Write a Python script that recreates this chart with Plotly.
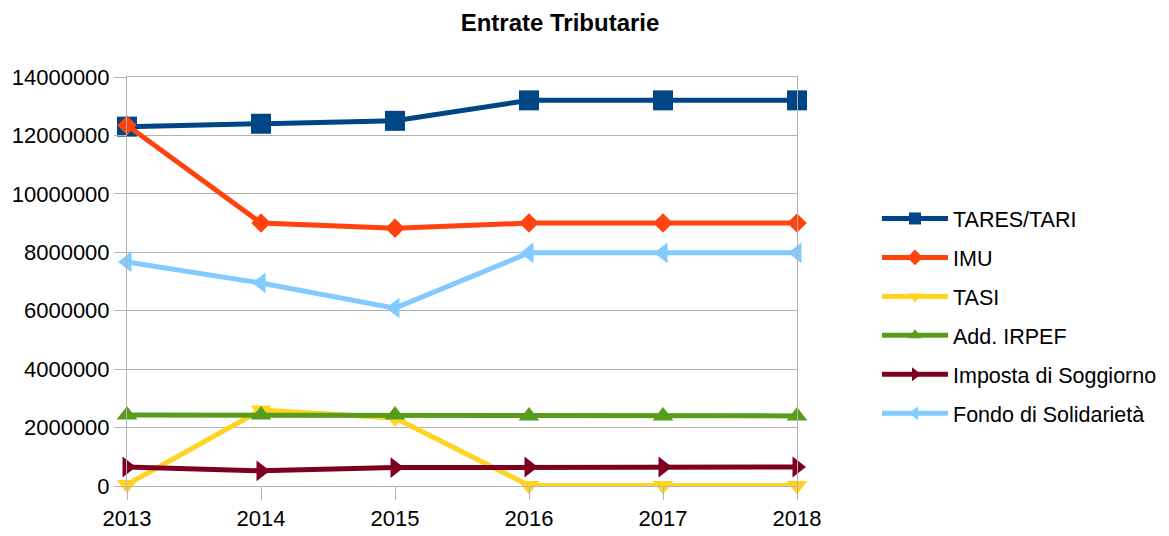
import plotly.graph_objects as go

years = [2013, 2014, 2015, 2016, 2017, 2018]
tares_tari = [12300000, 12400000, 12500000, 13200000, 13200000, 13200000]
imu = [12350000, 9000000, 8820000, 9000000, 9000000, 9000000]
tasi = [50000, 2600000, 2330000, 20000, 20000, 20000]
add_irpef = [2430000, 2430000, 2430000, 2400000, 2400000, 2400000]
imposta_soggiorno = [650000, 520000, 630000, 650000, 650000, 650000]
fondo_solidarieta = [7670000, 6950000, 6090000, 7980000, 7980000, 7980000]

series = [
    ("TARES/TARI", tares_tari, "#004586", "square", 20),
    ("IMU", imu, "#ff420e", "diamond", 15),
    ("TASI", tasi, "#ffd320", "triangle-down", 18),
    ("Add. IRPEF", add_irpef, "#579d1c", "triangle-up", 18),
    ("Imposta di Soggiorno", imposta_soggiorno, "#7e0021", "triangle-right", 18),
    ("Fondo di Solidarietà", fondo_solidarieta, "#83caff", "triangle-left", 18),
]

fig = go.Figure()
for i, (name, vals, color, sym, size) in enumerate(series):
    fig.add_trace(go.Scatter(
        x=years, y=vals, name=name, mode="lines+markers",
        line=dict(color=color, width=5),
        marker=dict(symbol=sym, size=size, color=color),
        cliponaxis=False, legendgroup=str(i),
    ))

# page offset from default body margin
OFF = 8
W, H = 1169 - OFF, 536 - OFF
# desired plot box in page pixels
L, R, T, B = 127, 797, 77, 486

fig.update_layout(
    width=W, height=H,
    margin=dict(l=L - OFF, r=W - (R - OFF), t=T - OFF, b=H - (B - OFF), autoexpand=False),
    paper_bgcolor="white", plot_bgcolor="white",
    font=dict(family="Liberation Sans, Arial, sans-serif", size=22, color="#000000"),
    title=dict(text="<b>Entrate Tributarie</b>", x=(560 - OFF) / W, xref="container", xanchor="center",
               y=1 - (23 - OFF) / H, yref="container", yanchor="middle",
               font=dict(size=24, color="#000000")),
    showlegend=True,
    legend=dict(x=(877 - L) / (R - L), xanchor="left", y=(B - 316) / (B - T), yanchor="middle",
                font=dict(size=21.5), itemwidth=66, itemsizing="constant",
                tracegroupgap=8, bgcolor="rgba(0,0,0,0)"),
    xaxis=dict(range=[2013, 2018], tickmode="array", tickvals=years,
               ticktext=[str(y) for y in years], showgrid=False, zeroline=False,
               showline=True, linecolor="#b3b3b3", linewidth=1, mirror=True, automargin=False,
               ticks="outside", ticklen=13, tickcolor="#b3b3b3", tickfont=dict(size=22)),
    yaxis=dict(range=[0, 14000000], tickmode="array",
               tickvals=[0, 2000000, 4000000, 6000000, 8000000, 10000000, 12000000, 14000000],
               ticktext=["0", "2000000", "4000000", "6000000", "8000000", "10000000", "12000000", "14000000"],
               showgrid=True, gridcolor="#b3b3b3", gridwidth=1, zeroline=False, automargin=False,
               showline=True, linecolor="#b3b3b3", linewidth=1, mirror=True,
               ticks="outside", ticklen=12, tickcolor="#b3b3b3", tickfont=dict(size=22)),
)

fig.write_html("out.html")
